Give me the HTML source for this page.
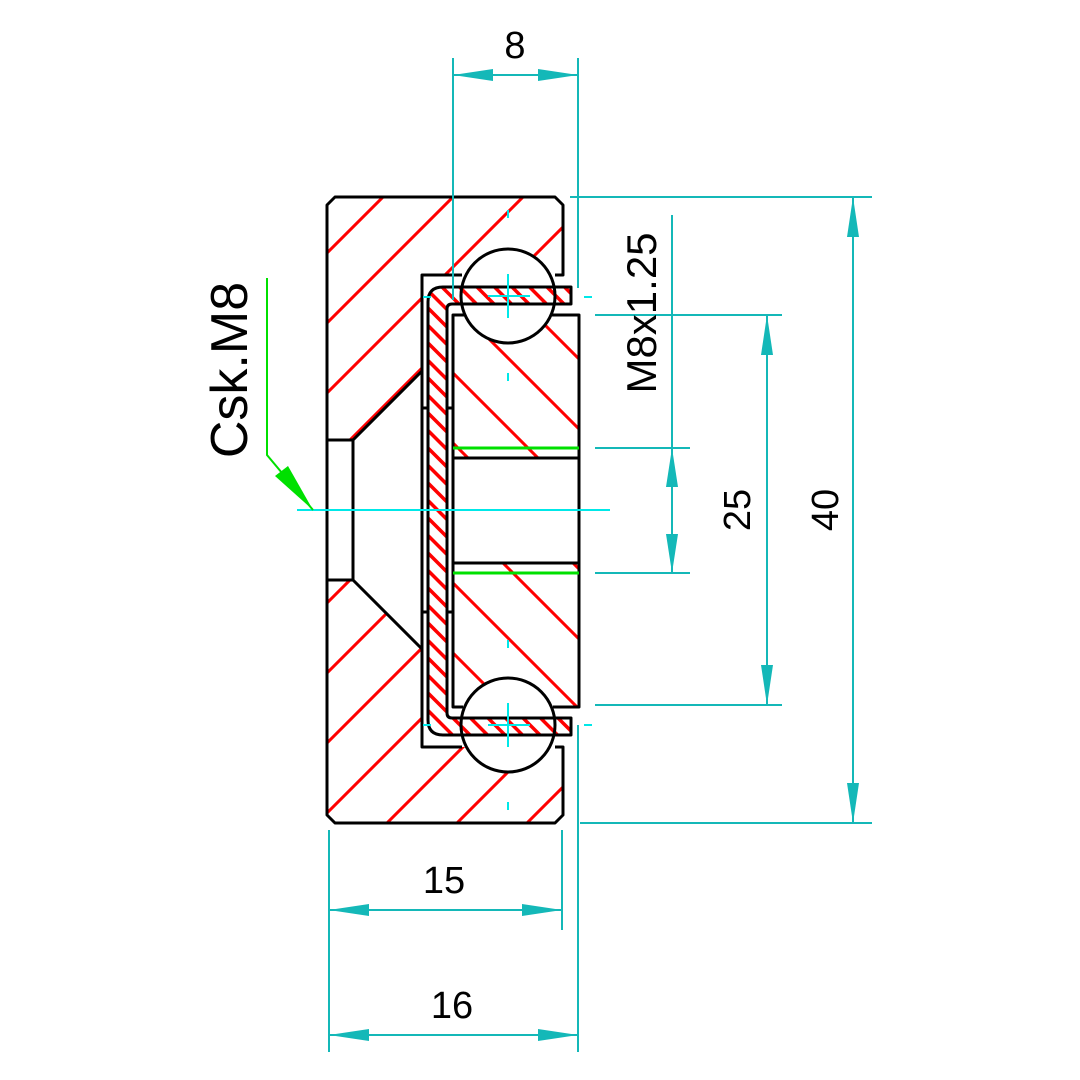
<!DOCTYPE html>
<html><head><meta charset="utf-8"><style>
html,body{margin:0;padding:0;background:#fff;width:1080px;height:1080px;overflow:hidden;}
svg{display:block;}
text{font-family:"Liberation Sans",Arial,sans-serif;fill:#000;}
</style></head><body>
<svg width="1080" height="1080" viewBox="0 0 1080 1080" xmlns="http://www.w3.org/2000/svg">
<defs>
<clipPath id="bodyClip"><path clip-rule="evenodd" fill-rule="evenodd" d="M335,197 L555,197 L563,205 L563,275 L422,275 L422,747 L563,747 L563,815 L555,823 L335,823 L327,815 L327,205 Z M327,440 L353,440 L422,371 L422,649 L353,580 L327,580 Z"/></clipPath>
<clipPath id="ringClip"><path clip-rule="evenodd" fill-rule="evenodd" d="M453,315 L579,315 L579,707 L453,707 Z M453,458 L579,458 L579,563 L453,563 Z"/></clipPath>
<clipPath id="boltClip"><path d="M443,287 L571,287 L571,304 L452,304 Q447,304 447,309 L447,713 Q447,718 452,718 L571,718 L571,735 L443,735 Q428,735 428,720 L428,302 Q428,287 443,287 Z"/></clipPath>
</defs>

<g clip-path="url(#bodyClip)" stroke="#f00" stroke-width="3">
<line x1="200" y1="380" x2="700" y2="-120"/>
<line x1="200" y1="450" x2="700" y2="-50"/>
<line x1="200" y1="520" x2="700" y2="20"/>
<line x1="200" y1="590" x2="700" y2="90"/>
<line x1="200" y1="660" x2="700" y2="160"/>
<line x1="200" y1="730" x2="700" y2="230"/>
<line x1="200" y1="800" x2="700" y2="300"/>
<line x1="200" y1="870" x2="700" y2="370"/>
<line x1="200" y1="940" x2="700" y2="440"/>
<line x1="200" y1="1010" x2="700" y2="510"/>
<line x1="200" y1="1080" x2="700" y2="580"/>
<line x1="200" y1="1150" x2="700" y2="650"/>
</g>
<g clip-path="url(#ringClip)" stroke="#f00" stroke-width="3">
<line x1="420" y1="200" x2="800" y2="580"/>
<line x1="350" y1="200" x2="800" y2="650"/>
<line x1="280" y1="200" x2="800" y2="720"/>
<line x1="210" y1="200" x2="800" y2="790"/>
<line x1="140" y1="200" x2="800" y2="860"/>
<line x1="70" y1="200" x2="700" y2="830"/>
<line x1="0" y1="200" x2="700" y2="900"/>
</g>
<circle cx="508" cy="296" r="47" fill="#fff"/>
<circle cx="508" cy="725" r="47" fill="#fff"/>
<path d="M443,287 L571,287 L571,304 L452,304 Q447,304 447,309 L447,713 Q447,718 452,718 L571,718 L571,735 L443,735 Q428,735 428,720 L428,302 Q428,287 443,287 Z" fill="#fff"/>
<g clip-path="url(#boltClip)" stroke="#f00" stroke-width="3.5">
<line x1="-20" y1="280" x2="440" y2="740"/>
<line x1="-2.5" y1="280" x2="457.5" y2="740"/>
<line x1="15" y1="280" x2="475" y2="740"/>
<line x1="32.5" y1="280" x2="492.5" y2="740"/>
<line x1="50" y1="280" x2="510" y2="740"/>
<line x1="67.5" y1="280" x2="527.5" y2="740"/>
<line x1="85" y1="280" x2="545" y2="740"/>
<line x1="102.5" y1="280" x2="562.5" y2="740"/>
<line x1="120" y1="280" x2="580" y2="740"/>
<line x1="137.5" y1="280" x2="597.5" y2="740"/>
<line x1="155" y1="280" x2="615" y2="740"/>
<line x1="172.5" y1="280" x2="632.5" y2="740"/>
<line x1="190" y1="280" x2="650" y2="740"/>
<line x1="207.5" y1="280" x2="667.5" y2="740"/>
<line x1="225" y1="280" x2="685" y2="740"/>
<line x1="242.5" y1="280" x2="702.5" y2="740"/>
<line x1="260" y1="280" x2="720" y2="740"/>
<line x1="277.5" y1="280" x2="737.5" y2="740"/>
<line x1="295" y1="280" x2="755" y2="740"/>
<line x1="312.5" y1="280" x2="772.5" y2="740"/>
<line x1="330" y1="280" x2="790" y2="740"/>
<line x1="347.5" y1="280" x2="807.5" y2="740"/>
<line x1="365" y1="280" x2="825" y2="740"/>
<line x1="382.5" y1="280" x2="842.5" y2="740"/>
<line x1="400" y1="280" x2="860" y2="740"/>
<line x1="417.5" y1="280" x2="877.5" y2="740"/>
<line x1="435" y1="280" x2="895" y2="740"/>
<line x1="452.5" y1="280" x2="912.5" y2="740"/>
<line x1="470" y1="280" x2="930" y2="740"/>
<line x1="487.5" y1="280" x2="947.5" y2="740"/>
<line x1="505" y1="280" x2="965" y2="740"/>
<line x1="522.5" y1="280" x2="982.5" y2="740"/>
<line x1="540" y1="280" x2="1000" y2="740"/>
<line x1="557.5" y1="280" x2="1017.5" y2="740"/>
<line x1="575" y1="280" x2="1035" y2="740"/>
</g>

<g fill="none" stroke="#000" stroke-width="3" stroke-linejoin="round">
<circle cx="508" cy="296" r="47"/>
<circle cx="508" cy="725" r="47"/>
<path d="M462,275 L422,275 L422,747 L462,747"/>
<path d="M555,747 L563,747 L563,815 L555,823 L335,823 L327,815 L327,205 L335,197 L555,197 L563,205 L563,275 L555,275"/>
<path d="M327,440 L353,440 L422,371"/>
<path d="M327,580 L353,580 L422,649"/>
<path d="M353,440 L353,580"/>
<path d="M443,287 L571,287 L571,304 L452,304 Q447,304 447,309 L447,713 Q447,718 452,718 L571,718 L571,735 L443,735 Q428,735 428,720 L428,302 Q428,287 443,287 Z"/>
<path d="M465,315 L453,315 L453,707 L463,707"/>
<path d="M552,315 L579,315 L579,707 L553,707"/>
<line x1="453" y1="458" x2="579" y2="458"/>
<line x1="453" y1="563" x2="579" y2="563"/>
<line x1="422" y1="408" x2="428" y2="408"/><line x1="447" y1="408" x2="453" y2="408"/>
<line x1="422" y1="612" x2="428" y2="612"/><line x1="447" y1="612" x2="453" y2="612"/>
</g>
<g stroke="#00e000" stroke-width="3">
<line x1="453" y1="448" x2="579" y2="448"/>
<line x1="453" y1="573" x2="579" y2="573"/>
</g>

<g stroke="#00e8e8" stroke-width="2">
<line x1="297" y1="510" x2="610" y2="510"/>
<line x1="488" y1="296" x2="530" y2="296"/><line x1="508" y1="274" x2="508" y2="318"/>
<line x1="488" y1="725" x2="530" y2="725"/><line x1="508" y1="703" x2="508" y2="747"/>
<line x1="508" y1="210" x2="508" y2="218"/><line x1="508" y1="373" x2="508" y2="381"/>
<line x1="508" y1="640" x2="508" y2="648"/><line x1="508" y1="802" x2="508" y2="810"/>
<line x1="584" y1="297" x2="592" y2="297"/><line x1="584" y1="725" x2="592" y2="725"/>
<line x1="423" y1="297" x2="431" y2="297"/><line x1="423" y1="725" x2="431" y2="725"/>
</g>

<g stroke="#14b8b8" stroke-width="2" fill="none">
<line x1="453" y1="58" x2="453" y2="300"/>
<line x1="578" y1="58" x2="578" y2="288"/>
<line x1="453" y1="75" x2="578" y2="75"/>
<line x1="570" y1="197" x2="872" y2="197"/>
<line x1="580" y1="823" x2="872" y2="823"/>
<line x1="853" y1="197" x2="853" y2="823"/>
<line x1="595" y1="315" x2="782" y2="315"/>
<line x1="595" y1="705" x2="782" y2="705"/>
<line x1="767" y1="315" x2="767" y2="705"/>
<line x1="595" y1="448" x2="690" y2="448"/>
<line x1="595" y1="573" x2="690" y2="573"/>
<line x1="672" y1="215" x2="672" y2="573"/>
<line x1="329" y1="830" x2="329" y2="1052"/>
<line x1="562" y1="830" x2="562" y2="930"/>
<line x1="578" y1="725" x2="578" y2="1052"/>
<line x1="329" y1="910" x2="562" y2="910"/>
<line x1="329" y1="1035" x2="578" y2="1035"/>
</g>
<g fill="#14b8b8">
<polygon points="453,75 493,69 493,81"/>
<polygon points="578,75 538,69 538,81"/>
<polygon points="853,197 847,237 859,237"/>
<polygon points="853,823 847,783 859,783"/>
<polygon points="767,315 761,355 773,355"/>
<polygon points="767,705 761,665 773,665"/>
<polygon points="672,448 666,487 678,487"/>
<polygon points="672,573 666,534 678,534"/>
<polygon points="329,910 369,904 369,916"/>
<polygon points="562,910 522,904 522,916"/>
<polygon points="329,1035 369,1029 369,1041"/>
<polygon points="578,1035 538,1029 538,1041"/>
</g>

<polyline points="267,278 267,455 313,510" fill="none" stroke="#00e000" stroke-width="2"/>
<polygon points="313,510 275,476 288,466" fill="#00e000"/>

<g font-size="38">
<text x="515" y="58" text-anchor="middle">8</text>
<text x="444" y="893" text-anchor="middle">15</text>
<text x="452" y="1018" text-anchor="middle">16</text>
<text transform="translate(838,510) rotate(-90)" text-anchor="middle">40</text>
<text transform="translate(750,510) rotate(-90)" text-anchor="middle">25</text>
<text transform="translate(656,313) rotate(-90)" text-anchor="middle" font-size="42">M8x1.25</text>
<text transform="translate(247,370) rotate(-90)" text-anchor="middle" font-size="52">Csk.M8</text>
</g>
</svg>
</body></html>
